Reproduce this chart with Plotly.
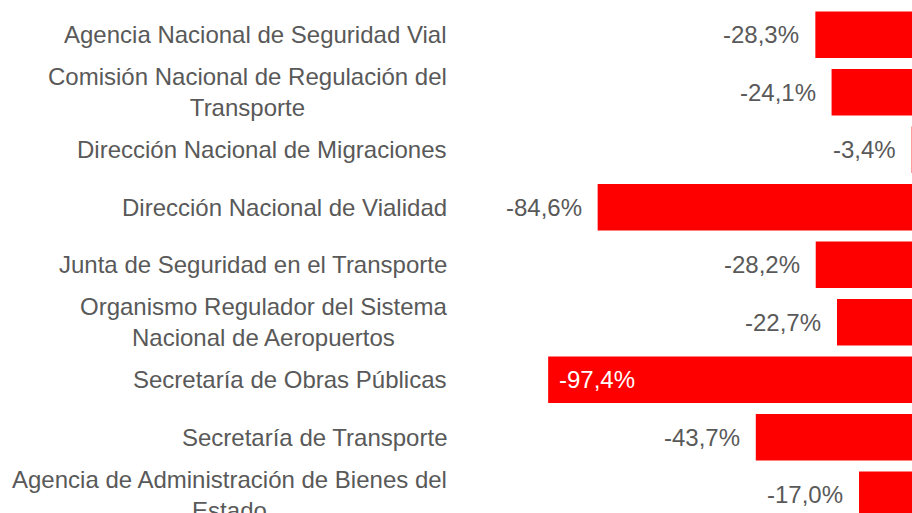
import plotly.graph_objects as go

categories = [
    "Agencia Nacional de Seguridad Vial",
    "Comisión Nacional de Regulación del<br>Transporte",
    "Dirección Nacional de Migraciones",
    "Dirección Nacional de Vialidad",
    "Junta de Seguridad en el Transporte",
    "Organismo Regulador del Sistema<br>Nacional de Aeropuertos",
    "Secretaría de Obras Públicas",
    "Secretaría de Transporte",
    "Agencia de Administración de Bienes del<br>Estado",
]
values = [-28.3, -24.1, -3.4, -84.6, -28.2, -22.7, -97.4, -43.7, -17.0]

FONT = "Liberation Sans, Arial, sans-serif"
GRAY = "#595959"
FS = 24

fig = go.Figure(
    go.Bar(
        x=values,
        y=categories,
        orientation="h",
        marker=dict(color="#FF0000", line=dict(width=0)),
        width=0.81,
        hoverinfo="skip",
    )
)

annotations = []
for cat, v in zip(categories, values):
    annotations.append(dict(
        x=0, xref="paper", y=cat, yref="y", xanchor="right", yanchor="middle",
        xshift=-11, text=cat, align="center", showarrow=False,
        font=dict(family=FONT, size=FS, color=GRAY),
    ))
    txt = f"{v:.1f}".replace(".", ",") + "%"
    if v < -90:
        annotations.append(dict(
            x=v, xref="x", y=cat, yref="y", xanchor="left", yanchor="middle",
            xshift=9, text=txt, showarrow=False,
            font=dict(family=FONT, size=FS, color="#FFFFFF"),
        ))
    else:
        annotations.append(dict(
            x=v, xref="x", y=cat, yref="y", xanchor="right", yanchor="middle",
            xshift=-14, text=txt, showarrow=False,
            font=dict(family=FONT, size=FS, color=GRAY),
        ))

fig.update_layout(
    width=912, height=513,
    margin=dict(l=460, r=0, t=6, b=0),
    paper_bgcolor="white", plot_bgcolor="white",
    showlegend=False,
    hovermode=False,
    xaxis=dict(range=[-120.2, -3.3], visible=False, showgrid=False, zeroline=False),
    yaxis=dict(range=[8.317, -0.5], visible=False, showgrid=False, zeroline=False,
               type="category"),
    annotations=annotations,
)

fig.write_html(
    "out.html",
    config={"displayModeBar": False},
    post_script="document.body.style.margin='0';document.body.style.overflow='hidden';",
)
